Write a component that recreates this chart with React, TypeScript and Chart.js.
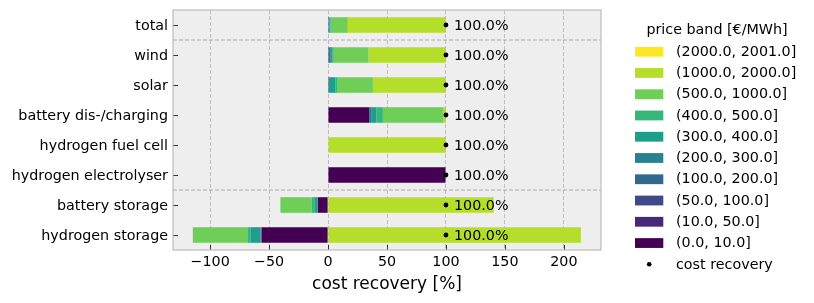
import React, { useEffect, useRef } from "react";
import { Chart, registerables } from "chart.js";

Chart.register(...registerables);

// ---------- data ----------
const categories = [
  "total",
  "wind",
  "solar",
  "battery dis-/charging",
  "hydrogen fuel cell",
  "hydrogen electrolyser",
  "battery storage",
  "hydrogen storage",
];

const bandLabels = [
  "(0.0, 10.0]",
  "(10.0, 50.0]",
  "(50.0, 100.0]",
  "(100.0, 200.0]",
  "(200.0, 300.0]",
  "(300.0, 400.0]",
  "(400.0, 500.0]",
  "(500.0, 1000.0]",
  "(1000.0, 2000.0]",
  "(2000.0, 2001.0]",
];

const bandColors = [
  "#440154",
  "#482878",
  "#3e4989",
  "#31688e",
  "#26828e",
  "#1f9e89",
  "#35b779",
  "#6ece58",
  "#b5de2b",
  "#fde725",
];

// cost recovery share [%] per price band, one value per category
const band0 = [0.3, 0.3, 0.3, 35.0, 0, 99.2, -8.5, -56.1];
const band1 = [0, 0, 0, 0, 0, 0, 0, 0];
const band2 = [0, 0, 0, 0, 0, 0, 0, 0];
const band3 = [0.3, 0.5, 0, 0, 0, 0, 0, 0];
const band4 = [0.6, 1.5, 0.5, 1.5, 0, 0, -0.3, -1.3];
const band5 = [0.8, 1.5, 5.5, 4.5, 0, 0.8, -2.4, -8.5];
const band6 = [0.3, 1.0, 1.8, 5.5, 0, 0, -2.6, -2.5];
const band7 = [14.4, 29.5, 29.9, 51.0, 0, 0, -26.6, -46.3];
const band8 = [83.3, 65.7, 62.0, 2.5, 100, 0, 140.4, 214.4];
const band9 = [0, 0, 0, 0, 0, 0, 0, 0];

const bandValues = [band0, band1, band2, band3, band4, band5, band6, band7, band8, band9];

const costRecovery = [100, 100, 100, 100, 100, 100, 100, 100];
const costRecoveryLabels = costRecovery.map((v) => v.toFixed(1) + "%");

const xTicks = [-100, -50, 0, 50, 100, 150, 200];
const xMin = -131.5;
const xMax = 231.5;
const separatorsAfter = [0.5, 5.5];

const legendTitle = "price band [€/MWh]";
const pointLegendLabel = "cost recovery";
const xTitle = "cost recovery [%]";

const FONT = '"DejaVu Sans", sans-serif';
const FS = 14.3;

const decorPlugin = {
  id: "decor",
  beforeDraw(chart: any) {
    const { ctx, chartArea: a } = chart;
    ctx.save();
    ctx.fillStyle = "#eeeeee";
    ctx.fillRect(a.left, a.top, a.right - a.left, a.bottom - a.top);
    ctx.restore();
  },
  afterDatasetsDraw(chart: any) {
    const { ctx, chartArea: a } = chart;
    const xs = chart.scales.x;
    const ys = chart.scales.y;
    ctx.save();
    // separators
    ctx.strokeStyle = "#9a9a9a";
    ctx.lineWidth = 0.8;
    ctx.setLineDash([4, 2]);
    separatorsAfter.forEach((s) => {
      const y = (ys.getPixelForValue(Math.floor(s)) + ys.getPixelForValue(Math.ceil(s))) / 2;
      ctx.beginPath();
      ctx.moveTo(a.left, y);
      ctx.lineTo(a.right, y);
      ctx.stroke();
    });
    ctx.setLineDash([]);
    // labels
    ctx.fillStyle = "#000";
    ctx.font = FS + "px " + FONT;
    ctx.textAlign = "left";
    ctx.textBaseline = "middle";
    costRecovery.forEach((v, i) => {
      ctx.fillText(costRecoveryLabels[i], xs.getPixelForValue(v) + 8, ys.getPixelForValue(i) + 1.5);
    });
    // inward ticks
    ctx.strokeStyle = "#333";
    ctx.lineWidth = 1;
    xTicks.forEach((t) => {
      const x = Math.round(xs.getPixelForValue(t)) + 0.5;
      ctx.beginPath();
      ctx.moveTo(x, a.bottom);
      ctx.lineTo(x, a.bottom - 5);
      ctx.stroke();
    });
    categories.forEach((_, i) => {
      const y = Math.round(ys.getPixelForValue(i)) + 0.5;
      ctx.beginPath();
      ctx.moveTo(a.left, y);
      ctx.lineTo(a.left + 5, y);
      ctx.stroke();
    });
    // frame
    ctx.strokeStyle = "#bcbcbc";
    ctx.lineWidth = 1.2;
    ctx.strokeRect(a.left, a.top, a.right - a.left, a.bottom - a.top);
    ctx.restore();
  },
  afterDraw(chart: any) {
    const { ctx, chartArea: a } = chart;
    ctx.save();
    const boxX = a.right + 34;
    const textX = a.right + 75;
    ctx.fillStyle = "#000";
    ctx.font = FS + "px " + FONT;
    ctx.textBaseline = "middle";
    ctx.textAlign = "center";
    ctx.fillText(legendTitle, a.right + 116, 30);
    ctx.textAlign = "left";
    const step = 21.26;
    const y0 = 51.7;
    for (let i = 0; i < bandLabels.length; i++) {
      const b = bandLabels.length - 1 - i;
      const y = y0 + i * step;
      ctx.fillStyle = bandColors[b];
      ctx.fillRect(boxX, y - 4.9, 28.3, 9.8);
      ctx.fillStyle = "#000";
      ctx.fillText(bandLabels[b], textX, y + 0.5);
    }
    const yp = y0 + bandLabels.length * step;
    ctx.beginPath();
    ctx.arc(boxX + 14.2, yp, 2.3, 0, Math.PI * 2);
    ctx.fill();
    ctx.fillText(pointLegendLabel, textX, yp + 0.5);
    ctx.restore();
  },
};

export default function App() {
  const ref = useRef<HTMLCanvasElement | null>(null);
  useEffect(() => {
    if (!ref.current) return;
    Chart.defaults.font.family = FONT;
    Chart.defaults.color = "#000";
    const datasets: any[] = [
      {
        type: "scatter",
        label: pointLegendLabel,
        data: costRecovery.map((v, i) => ({ x: v, y: categories[i] })),
        backgroundColor: "#000",
        borderWidth: 0,
        pointRadius: 2.4,
        order: -1,
        indexAxis: "y",
      },
      ...bandLabels.map((lab, b) => ({
        type: "bar",
        label: lab,
        data: bandValues[b],
        backgroundColor: bandColors[b],
        borderWidth: 0,
        categoryPercentage: 1,
        barPercentage: 0.52,
      })),
    ];
    const chart = new Chart(ref.current, {
      type: "bar",
      data: { labels: categories, datasets },
      options: {
        indexAxis: "y",
        animation: false,
        responsive: false,
        devicePixelRatio: 1,
        layout: { padding: { left: 0, right: 213, top: 10, bottom: 0 } },
        plugins: { legend: { display: false }, tooltip: { enabled: false } },
        scales: {
          x: {
            type: "linear",
            min: xMin,
            max: xMax,
            stacked: true,
            afterBuildTicks: (s: any) => {
              s.ticks = xTicks.map((v) => ({ value: v }));
            },
            afterFit: (s: any) => {
              s.height = 53;
              s.paddingLeft = 0;
              s.paddingRight = 0;
            },
            grid: { color: "#b2b2b2", lineWidth: 0.8, drawTicks: false },
            border: { display: false, dash: [4, 2] },
            ticks: {
              color: "#000",
              font: { size: FS },
              padding: 4,
              callback: (v: any) => (v < 0 ? "\u2212" + Math.abs(v) : String(v)),
            },
            title: {
              display: true,
              text: xTitle,
              color: "#000",
              font: { size: 17 },
              padding: { top: 0, bottom: 8 },
            },
          },
          y: {
            type: "category",
            stacked: true,
            offset: true,
            afterFit: (s: any) => {
              s.width = 173;
              s.paddingTop = 0;
              s.paddingBottom = 0;
            },
            grid: { display: false, drawTicks: false },
            border: { display: false },
            ticks: { color: "#000", font: { size: FS }, padding: 5, labelOffset: 1.5 },
          },
        },
      },
      plugins: [decorPlugin],
    } as any);
    return () => chart.destroy();
  }, []);
  return (
    <div style={{ position: "fixed", left: 0, top: 0, width: 814, height: 303, background: "#fff" }}>
      <canvas ref={ref} width={814} height={303} />
    </div>
  );
}
